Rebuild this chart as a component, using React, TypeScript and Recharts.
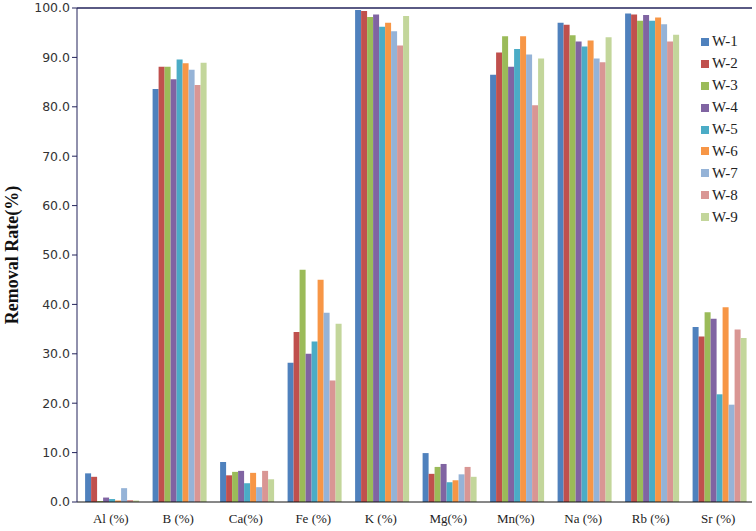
import { BarChart, Bar, XAxis, YAxis, ReferenceLine } from "recharts";

const elements = ["Al (%)", "B (%)", "Ca(%)", "Fe (%)", "K (%)", "Mg(%)", "Mn(%)", "Na (%)", "Rb (%)", "Sr (%)"];

const w1 = [5.8, 83.6, 8.1, 28.2, 99.6, 9.9, 86.5, 97.0, 98.9, 35.4];
const w2 = [5.1, 88.1, 5.4, 34.4, 99.4, 5.7, 91.0, 96.6, 98.7, 33.5];
const w3 = [0.2, 88.1, 6.1, 47.0, 98.2, 7.1, 94.3, 94.5, 97.4, 38.4];
const w4 = [0.9, 85.6, 6.3, 30.0, 98.7, 7.7, 88.1, 93.2, 98.6, 37.1];
const w5 = [0.6, 89.6, 3.8, 32.5, 96.2, 4.0, 91.7, 92.2, 97.4, 21.8];
const w6 = [0.3, 88.8, 5.9, 45.0, 97.0, 4.4, 94.3, 93.4, 98.1, 39.4];
const w7 = [2.8, 87.5, 3.0, 38.3, 95.3, 5.6, 90.6, 89.8, 96.7, 19.7];
const w8 = [0.4, 84.4, 6.3, 24.6, 92.4, 7.1, 80.3, 89.0, 93.2, 34.9];
const w9 = [0.3, 88.9, 4.6, 36.1, 98.4, 5.1, 89.8, 94.1, 94.6, 33.2];

const seriesNames = ["W-1", "W-2", "W-3", "W-4", "W-5", "W-6", "W-7", "W-8", "W-9"];
const seriesValues = [w1, w2, w3, w4, w5, w6, w7, w8, w9];
const colors = ["#4F81BD", "#C0504D", "#9BBB59", "#8064A2", "#4BACC6", "#F79646", "#95B3D7", "#D99694", "#C3D69B"];

const yTicks = [0, 10, 20, 30, 40, 50, 60, 70, 80, 90, 100];

const data = elements.map((el, i) => {
  const row: Record<string, string | number> = { name: el };
  seriesNames.forEach((s, j) => {
    row[s] = seriesValues[j][i];
  });
  return row;
});

const navy = "#23235B";

const LegendBox = () => (
  <div style={{ position: "absolute", left: 701, top: 31, fontFamily: "'Liberation Serif', serif", fontSize: 15, color: "#222" }}>
    {seriesNames.map((s, i) => (
      <div key={s} style={{ display: "flex", alignItems: "center", height: 21.9 }}>
        <span style={{ width: 8, height: 8, background: colors[i], display: "inline-block", marginRight: 3 }} />
        <span>{s}</span>
      </div>
    ))}
  </div>
);

export default function App() {
  return (
    <div style={{ position: "absolute", left: 0, top: 0, width: 756, height: 531, background: "#fff" }}>
      <BarChart
        width={756}
        height={531}
        data={data}
        margin={{ top: 8, right: 4, bottom: 0, left: 0 }}
        barCategoryGap="12%"
        barGap={0}
      >
        <XAxis
          dataKey="name"
          height={29}
          axisLine={{ stroke: "#111" }}
          tickLine={false}
          tick={{ fontFamily: "'Liberation Serif', serif", fontSize: 13, fill: "#222" }}
          tickMargin={6}
        />
        <YAxis
          yAxisId="left"
          width={77}
          domain={[0, 100]}
          ticks={yTicks}
          interval={0}
          tickFormatter={(v: number) => v.toFixed(1)}
          axisLine={{ stroke: navy }}
          tickLine={{ stroke: navy }}
          tickSize={5}
          tick={{ fontFamily: "'DejaVu Sans', sans-serif", fontSize: 12.5, fill: "#333" }}
          label={{
            value: "Removal  Rate(%)",
            angle: -90,
            position: "insideLeft",
            offset: 12,
            style: { fontFamily: "'Liberation Serif', serif", fontWeight: "bold", fontSize: 18, fill: "#111", textAnchor: "middle" },
          }}
        />
        <YAxis
          yAxisId="right"
          orientation="right"
          width={0}
          domain={[0, 100]}
          tick={false}
          tickLine={false}
          axisLine={{ stroke: navy }}
        />
        <ReferenceLine yAxisId="left" y={100} stroke={navy} strokeWidth={1.5} />
        {seriesNames.map((s, i) => (
          <Bar key={s} yAxisId="left" dataKey={s} fill={colors[i]} isAnimationActive={false} />
        ))}
      </BarChart>
      <LegendBox />
    </div>
  );
}
